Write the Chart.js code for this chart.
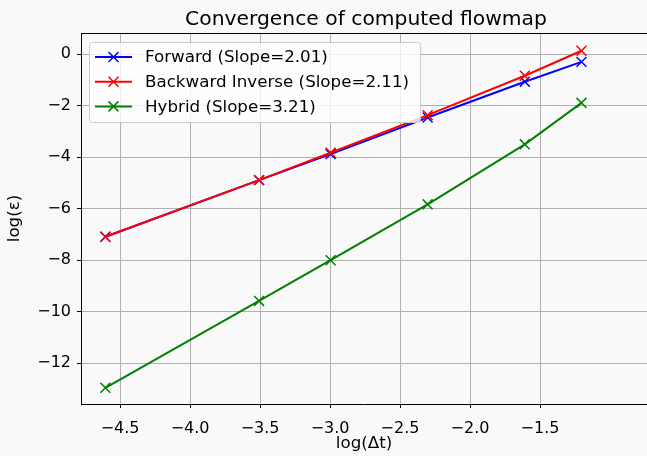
<!DOCTYPE html>
<html>
<head>
<meta charset="utf-8">
<script src="https://cdn.jsdelivr.net/npm/chart.js@4"></script>
<style>
  html, body { margin: 0; padding: 0; background: #f9f9f9; overflow: hidden; }
  #wrap { width: 647px; height: 456px; }
</style>
</head>
<body>
<div id="wrap"><canvas id="flowmap"></canvas></div>
<script>
var logDt = [-4.605, -3.507, -2.996, -2.303, -1.609, -1.204];
var forwardErr = [-7.09, -4.89, -3.88, -2.46, -1.07, -0.30];
var backwardErr = [-7.09, -4.89, -3.83, -2.37, -0.84, 0.13];
var hybridErr = [-12.95, -9.58, -8.00, -5.83, -3.50, -1.89];
var seriesNames = ['Forward (Slope=2.01)', 'Backward Inverse (Slope=2.11)', 'Hybrid (Slope=3.21)'];
var seriesColors = ['#0000ff', '#ff0000', '#008000'];
var xTicks = [-4.5, -4.0, -3.5, -3.0, -2.5, -2.0, -1.5];
var yTicks = [-12, -10, -8, -6, -4, -2, 0];
var chartTitle = 'Convergence of computed flowmap';

var font = 'DejaVu Sans';

function toPoints(ys) {
    return logDt.map(function(x, i) { return {x: x, y: ys[i]}; });
}

var allSeries = [forwardErr, backwardErr, hybridErr];
var datasets = allSeries.map(function(ys, i) {
    return {
        label: seriesNames[i],
        data: toPoints(ys),
        showLine: true,
        order: 2 - i,
        borderColor: seriesColors[i],
        backgroundColor: seriesColors[i],
        borderWidth: 2,
        pointStyle: 'crossRot',
        pointRadius: 7,
        pointBorderWidth: 1.5,
        pointHoverRadius: 7
    };
});

// background, title, top spine and the legend inside the axes
var mplLook = {
    id: 'mplLook',
    beforeDraw: function(chart) {
        var c = chart.ctx;
        c.save();
        c.fillStyle = '#f9f9f9';
        c.fillRect(0, 0, chart.width, chart.height);
        c.restore();
    },
    afterDraw: function(chart) {
        var c = chart.ctx;
        var a = chart.chartArea;
        c.save();
        c.strokeStyle = '#000';
        c.lineWidth = 1;
        c.beginPath();
        c.moveTo(a.left, a.top + 0.5);
        c.lineTo(a.right, a.top + 0.5);
        c.stroke();

        c.fillStyle = '#000';
        c.font = '20.3px ' + font;
        c.textAlign = 'center';
        c.textBaseline = 'alphabetic';
        c.fillText(chartTitle, 366, 25);

        // legend box
        var bx = 89.5, by = 42.5, bw = 331, bh = 80;
        c.fillStyle = 'rgba(255,255,255,0.8)';
        c.strokeStyle = '#cccccc';
        c.beginPath();
        c.roundRect(bx, by, bw, bh, 3);
        c.fill();
        c.stroke();

        c.font = '16.7px ' + font;
        c.textAlign = 'left';
        c.textBaseline = 'middle';
        chart.data.datasets.forEach(function(ds, i) {
            var yy = 57 + i * 24.7;
            c.strokeStyle = ds.borderColor;
            c.lineWidth = 2;
            c.beginPath();
            c.moveTo(95, yy);
            c.lineTo(132, yy);
            c.stroke();
            c.lineWidth = 1.5;
            c.beginPath();
            c.moveTo(108.5, yy - 5); c.lineTo(118.5, yy + 5);
            c.moveTo(108.5, yy + 5); c.lineTo(118.5, yy - 5);
            c.stroke();
            c.fillStyle = '#000';
            c.fillText(ds.label, 145, yy + 1);
        });
        c.restore();
    }
};

new Chart(document.getElementById('flowmap'), {
    type: 'scatter',
    data: { datasets: datasets },
    plugins: [mplLook],
    options: {
        responsive: true,
        maintainAspectRatio: false,
        animation: false,
        layout: { autoPadding: false, padding: { left: 0, right: 0, top: 33, bottom: 0 } },
        plugins: {
            legend: { display: false },
            tooltip: { enabled: false },
            title: { display: false }
        },
        scales: {
            x: {
                type: 'linear',
                min: -4.779,
                max: -0.736,
                afterBuildTicks: function(scale) {
                    scale.ticks = xTicks.map(function(v) { return {value: v}; });
                },
                afterFit: function(scale) {
                    scale.height = 52;
                    scale.paddingLeft = 0;
                    scale.paddingRight = 0;
                },
                ticks: {
                    color: '#000',
                    font: { family: font, size: 16 },
                    padding: 11,
                    maxRotation: 0,
                    callback: function(v) { return v.toFixed(1).replace('-', '\u2212'); }
                },
                grid: { color: '#b0b0b0', lineWidth: 1, tickColor: '#000', tickLength: 4 },
                border: { color: '#000', width: 1 },
                title: {
                    display: true,
                    text: 'log(\u0394t)',
                    color: '#000',
                    font: { family: font, size: 16.7 },
                    padding: { top: 0, bottom: 2 }
                }
            },
            y: {
                type: 'linear',
                min: -13.58,
                max: 0.82,
                afterBuildTicks: function(scale) {
                    scale.ticks = yTicks.map(function(v) { return {value: v}; });
                },
                afterFit: function(scale) {
                    scale.width = 81;
                    scale.paddingTop = 0;
                    scale.paddingBottom = 0;
                },
                ticks: {
                    color: '#000',
                    font: { family: font, size: 16 },
                    padding: 6,
                    callback: function(v) { return String(v).replace('-', '\u2212'); }
                },
                grid: { color: '#b0b0b0', lineWidth: 1, tickColor: '#000', tickLength: 4 },
                border: { color: '#000', width: 1 },
                title: {
                    display: true,
                    text: 'log(\u03b5)',
                    color: '#000',
                    font: { family: font, size: 16.7 },
                    padding: { top: 5, bottom: 0 }
                }
            }
        }
    }
});
</script>
</body>
</html>
